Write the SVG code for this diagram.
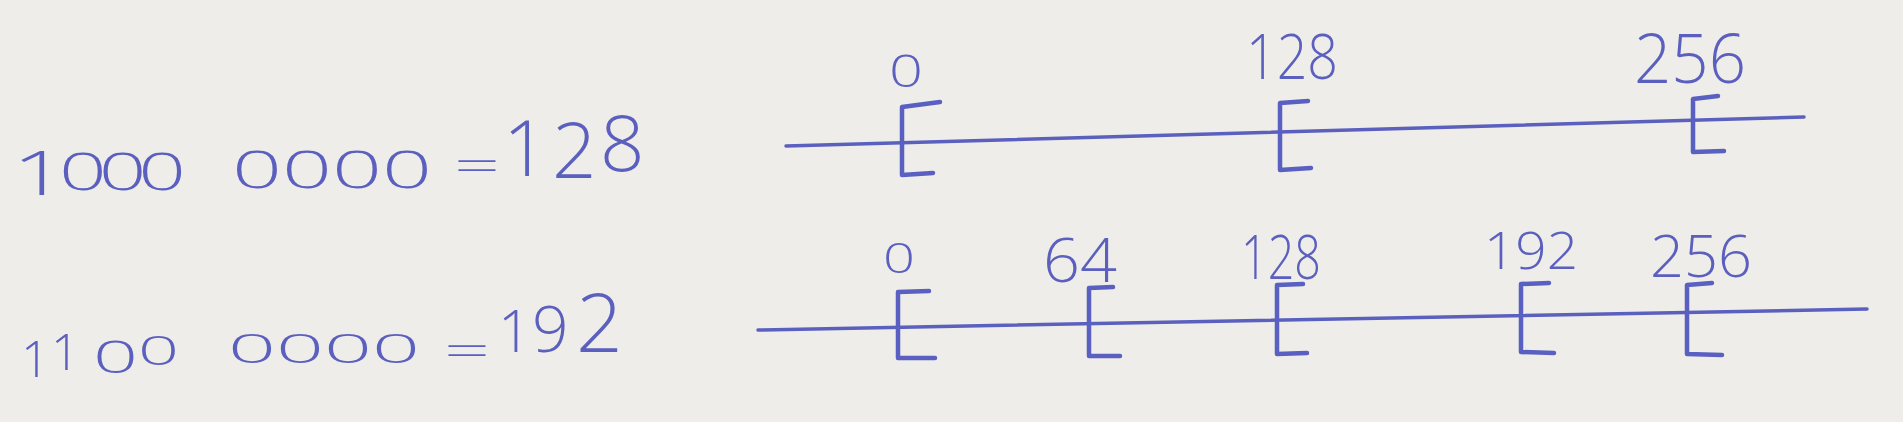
<svg xmlns="http://www.w3.org/2000/svg" width="1903" height="422" viewBox="0 0 1903 422">
<style>
.ink{fill:#5b60bf;font-family:"Open Sans","Liberation Sans",sans-serif;font-weight:300;}
.line{stroke:#5b60bf;stroke-width:3.5;fill:none;stroke-linecap:round;}
.br{stroke:#5a5fc2;stroke-width:4.5;fill:none;stroke-linecap:round;stroke-linejoin:round;}
</style>
<rect width="1903" height="422" fill="#eeede9"/>
<g id="eq1">
<text class="ink" x="12" font-size="52" letter-spacing="-5" textLength="166" lengthAdjust="spacingAndGlyphs"><tspan y="195" font-size="60">1</tspan><tspan y="190">000</tspan></text>
<text class="ink" x="232" y="188" font-size="52" textLength="200" lengthAdjust="spacingAndGlyphs">0000</text>
<text class="ink" x="454" y="181" font-size="45" textLength="46" lengthAdjust="spacingAndGlyphs">=</text>
<text class="ink" x="503 552 600" font-size="78"><tspan y="176">1</tspan><tspan y="178">2</tspan><tspan y="171">8</tspan></text>
</g>
<g id="eq2">
<text class="ink" x="21 51" y="377" font-size="50"><tspan>1</tspan><tspan y="370">1</tspan></text>
<text class="ink" x="93" font-size="45" textLength="86" lengthAdjust="spacingAndGlyphs"><tspan y="373">0</tspan><tspan y="365" font-size="41">0</tspan></text>
<text class="ink" x="228" y="363" font-size="41" textLength="192" lengthAdjust="spacingAndGlyphs">0000</text>
<text class="ink" x="444" y="366" font-size="45" textLength="46" lengthAdjust="spacingAndGlyphs">=</text>
<text class="ink" x="498 532 576" font-size="58"><tspan y="352">1</tspan><tspan y="352" font-size="64">9</tspan><tspan y="352" font-size="82">2</tspan></text>
</g>
<g id="connectors">
<path class="line" d="M786,146 L1804,117"/>
<path class="line" d="M758,330 L1867,309"/>
</g>
<g id="t1-0"><path class="br" d="M940,102 L902,107 L902,175 L933,173"/><text class="ink" x="889" y="87" font-size="44" textLength="34" lengthAdjust="spacingAndGlyphs">0</text></g>
<g id="t1-128"><path class="br" d="M1308,101 L1280,103 L1280,170 L1311,168"/><text class="ink" x="1246" y="79" font-size="62" textLength="92" lengthAdjust="spacingAndGlyphs">128</text></g>
<g id="t1-256"><path class="br" d="M1718,96 L1693,99 L1693,152 L1724,151"/><text class="ink" x="1634" y="83" font-size="68" textLength="112" lengthAdjust="spacingAndGlyphs">256</text></g>
<g id="t2-0"><path class="br" d="M929,291 L898,292 L898,358 L935,358"/><text class="ink" x="883" y="273" font-size="42" textLength="32" lengthAdjust="spacingAndGlyphs">0</text></g>
<g id="t2-64"><path class="br" d="M1113,287 L1089,288 L1089,356 L1120,356"/><text class="ink" x="1043" y="282" font-size="60" textLength="74" lengthAdjust="spacingAndGlyphs">64</text></g>
<g id="t2-128"><path class="br" d="M1303,284 L1277,285 L1277,354 L1307,353"/><text class="ink" x="1241" y="279" font-size="60" textLength="80" lengthAdjust="spacingAndGlyphs">128</text></g>
<g id="t2-192"><path class="br" d="M1549,283 L1521,284 L1521,352 L1554,353"/><text class="ink" x="1484" y="269" font-size="52" textLength="94" lengthAdjust="spacingAndGlyphs">192</text></g>
<g id="t2-256"><path class="br" d="M1712,283 L1687,285 L1687,354 L1722,355"/><text class="ink" x="1650" y="277" font-size="58" textLength="102" lengthAdjust="spacingAndGlyphs">256</text></g>
</svg>
